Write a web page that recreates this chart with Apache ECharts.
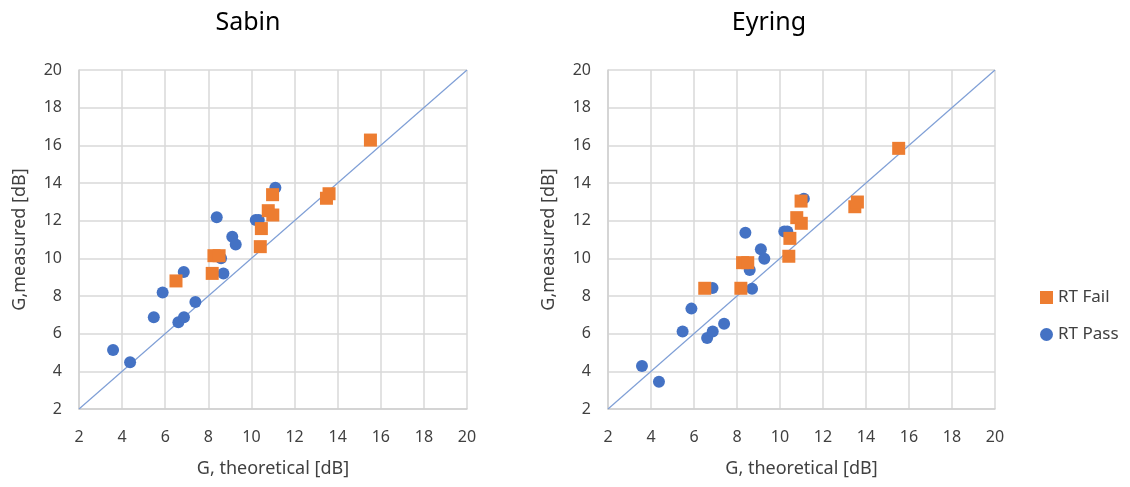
<!DOCTYPE html>
<html>
<head>
<meta charset="utf-8">
<script src="https://cdn.jsdelivr.net/npm/echarts@6/dist/echarts.min.js"></script>
<style>
  html, body { margin: 0; padding: 0; background: #fff; }
  #main { width: 1130px; height: 487px; }
</style>
</head>
<body>
<div id="main"></div>
<script>
// theoretical G for each room (same x in both panels)
const passTheory = [3.58, 4.37, 5.47, 5.88, 6.61, 6.87, 6.86, 7.40, 8.39, 8.59, 8.70, 9.11, 9.27, 10.20, 10.34, 11.11];
const failTheory = [6.50, 8.18, 8.26, 8.50, 10.41, 10.46, 10.78, 10.99, 10.98, 13.48, 13.60, 15.52];

// measured G
const sabinPass  = [5.13, 4.48, 6.87, 8.18, 6.60, 6.87, 9.27, 7.68, 12.18, 10.00, 9.20, 11.15, 10.74, 12.04, 12.04, 13.75];
const sabinFail  = [8.80, 9.20, 10.14, 10.14, 10.62, 11.58, 12.53, 12.30, 13.38, 13.19, 13.43, 16.28];
const eyringPass = [4.28, 3.45, 6.11, 7.33, 5.77, 6.12, 8.42, 6.53, 11.36, 9.38, 8.39, 10.48, 9.98, 11.43, 11.43, 13.17];
const eyringFail = [8.41, 8.41, 9.77, 9.77, 10.11, 11.06, 12.16, 11.86, 13.04, 12.74, 12.99, 15.84];

const diagonal = [2, 20];
const panelTitles = ['Sabin', 'Eyring'];

const FONT = 'Noto Sans';
const BLUE = '#4472C4';
const ORANGE = '#ED7D31';

function pairs(xs, ys) {
    return xs.map(function (x, i) { return [x, ys[i]]; });
}

function axis(gridIndex, name, gap, rotate, margin) {
    return {
        type: 'value',
        gridIndex: gridIndex,
        min: 2,
        max: 20,
        interval: 2,
        name: name,
        nameLocation: 'middle',
        nameGap: gap,
        nameRotate: rotate,
        nameTextStyle: { fontFamily: FONT, fontSize: 18, color: '#404040' },
        axisLine: { show: true, lineStyle: { color: '#d0d0d0', width: 1.5 } },
        axisTick: { show: false },
        axisLabel: { fontFamily: FONT, fontSize: 16, color: '#404040', margin: margin },
        splitLine: { show: true, lineStyle: { color: '#d9d9d9', width: 1.5 } }
    };
}

let myChart = echarts.init(document.getElementById('main'));

let option = {
    animation: false,
    title: [
        { text: panelTitles[0], left: 243, top: 5, textAlign: 'center',
          textStyle: { fontFamily: FONT, fontSize: 25, fontWeight: 'normal', color: '#000' } },
        { text: panelTitles[1], left: 764, top: 5, textAlign: 'center',
          textStyle: { fontFamily: FONT, fontSize: 25, fontWeight: 'normal', color: '#000' } }
    ],
    legend: {
        orient: 'vertical',
        left: 1035,
        top: 284,
        itemGap: 20,
        itemWidth: 13,
        itemHeight: 13,
        textStyle: { fontFamily: FONT, fontSize: 17, color: '#404040' },
        data: [
            { name: 'RT Fail', icon: 'rect' },
            { name: 'RT Pass', icon: 'circle' }
        ]
    },
    grid: [
        { left: 79, top: 70, width: 388, height: 339 },
        { left: 608, top: 70, width: 387, height: 339 }
    ],
    xAxis: [
        axis(0, 'G, theoretical [dB]', 51, 0, 20),
        axis(1, 'G, theoretical [dB]', 51, 0, 20)
    ],
    yAxis: [
        axis(0, 'G,measured [dB]', 50, 90, 17),
        axis(1, 'G,measured [dB]', 50, 90, 17)
    ],
    series: [
        { type: 'line', xAxisIndex: 0, yAxisIndex: 0, data: pairs(diagonal, diagonal),
          symbol: 'none', lineStyle: { color: '#7F9FD6', width: 1.2 }, z: 1, silent: true },
        { type: 'line', xAxisIndex: 1, yAxisIndex: 1, data: pairs(diagonal, diagonal),
          symbol: 'none', lineStyle: { color: '#7F9FD6', width: 1.2 }, z: 1, silent: true },
        { name: 'RT Pass', type: 'scatter', xAxisIndex: 0, yAxisIndex: 0,
          data: pairs(passTheory, sabinPass), symbol: 'circle', symbolSize: 12,
          itemStyle: { color: BLUE, opacity: 1 }, z: 2 },
        { name: 'RT Fail', type: 'scatter', xAxisIndex: 0, yAxisIndex: 0,
          data: pairs(failTheory, sabinFail), symbol: 'rect', symbolSize: 13,
          itemStyle: { color: ORANGE, opacity: 1 }, z: 3 },
        { name: 'RT Pass', type: 'scatter', xAxisIndex: 1, yAxisIndex: 1,
          data: pairs(passTheory, eyringPass), symbol: 'circle', symbolSize: 12,
          itemStyle: { color: BLUE, opacity: 1 }, z: 2 },
        { name: 'RT Fail', type: 'scatter', xAxisIndex: 1, yAxisIndex: 1,
          data: pairs(failTheory, eyringFail), symbol: 'rect', symbolSize: 13,
          itemStyle: { color: ORANGE, opacity: 1 }, z: 3 }
    ]
};

myChart.setOption(option);
</script>
</body>
</html>
